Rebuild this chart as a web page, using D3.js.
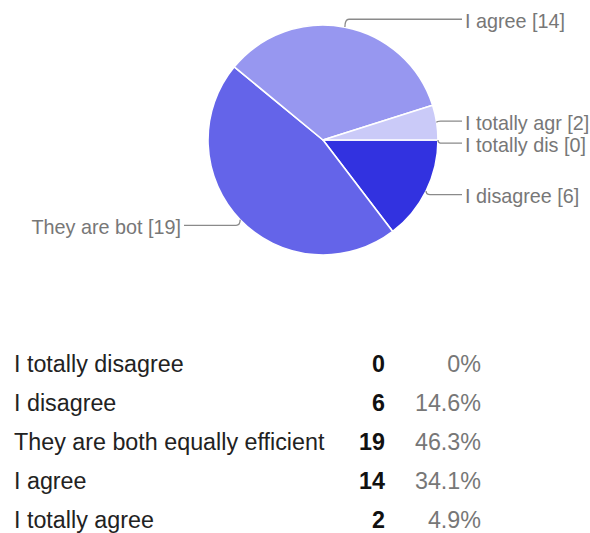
<!DOCTYPE html>
<html>
<head>
<meta charset="utf-8">
<script src="https://cdn.jsdelivr.net/npm/d3@7"></script>
<style>
  html, body { margin: 0; padding: 0; background: #fff; }
  svg { display: block; font-family: Arial, "Liberation Sans", sans-serif; }
</style>
</head>
<body>
<svg id="chart" width="590" height="533"></svg>
<script>
// Survey answers, in table order
const categories = [
  "I totally disagree",
  "I disagree",
  "They are both equally efficient",
  "I agree",
  "I totally agree"
];
const counts = [0, 6, 19, 14, 2];
// Shortened names used beside the pie
const shortNames = ["I totally dis", "I disagree", "They are bot", "I agree", "I totally agr"];
const sliceColors = ["#1f1fd8", "#3232e0", "#6464e9", "#9797f0", "#cacaf8"];

const total = d3.sum(counts);
const svg = d3.select("#chart");

// ---- Pie ----
const cx = 323, cy = 140, r = 115;
const pie = d3.pie()
  .sort(null)
  .value(d => d.value)
  .startAngle(Math.PI / 2)
  .endAngle(Math.PI / 2 + 2 * Math.PI);

const data = categories.map((c, i) => ({ name: c, short: shortNames[i], value: counts[i], color: sliceColors[i] }));
const arcs = pie(data);
const arc = d3.arc().innerRadius(0).outerRadius(r);

const g = svg.append("g").attr("transform", `translate(${cx},${cy})`);
g.selectAll("path.slice")
  .data(arcs.filter(a => a.data.value > 0))
  .join("path")
  .attr("class", "slice")
  .attr("d", arc)
  .attr("fill", a => a.data.color)
  .attr("stroke", "#fff")
  .attr("stroke-width", 1.6)
  .attr("stroke-linejoin", "round");

// ---- Leader lines and labels ----
const labels = arcs.map(a => {
  const mid = (a.startAngle + a.endAngle) / 2;
  const sx = Math.sin(mid), sy = -Math.cos(mid);
  return {
    a,
    side: sx >= 0 ? 1 : -1,
    ex: r * sx, ey: r * sy,
    ly: (r + 8) * sy
  };
});

// keep labels on each side apart
[1, -1].forEach(side => {
  const group = labels.filter(l => l.side === side).sort((p, q) => p.ly - q.ly);
  for (let i = 1; i < group.length; i++) {
    if (group[i].ly - group[i - 1].ly < 22) group[i].ly = group[i - 1].ly + 22;
  }
});

const lineEnd = 139, textGap = 3;
labels.forEach(l => {
  const xEnd = l.side * lineEnd;
  const kx = l.ex + l.side * 4;
  g.append("path")
    .attr("d", `M${l.ex},${l.ey} Q${l.ex},${l.ly} ${kx},${l.ly} L${xEnd},${l.ly}`)
    .attr("fill", "none")
    .attr("stroke", "#8a8a8a")
    .attr("stroke-width", 1.3);
  g.append("text")
    .attr("x", xEnd + l.side * textGap)
    .attr("y", l.ly + 8.5)
    .attr("text-anchor", l.side > 0 ? "start" : "end")
    .attr("font-size", 19.8)
    .attr("fill", "#777")
    .text(`${l.a.data.short} [${l.a.data.value}]`);
});

// ---- Summary table ----
const rowY = d3.scalePoint().domain(categories).range([372, 528]);
const fmtPct = v => v === 0 ? "0%" : (v / total * 100).toFixed(1) + "%";

const rows = svg.append("g").selectAll("g.row")
  .data(data)
  .join("g")
  .attr("class", "row")
  .attr("transform", d => `translate(0,${rowY(d.name)})`);

rows.append("text")
  .attr("x", 14)
  .attr("font-size", 23.3)
  .attr("fill", "#222")
  .text(d => d.name);

rows.append("text")
  .attr("x", 385)
  .attr("text-anchor", "end")
  .attr("font-size", 23.3)
  .attr("font-weight", "bold")
  .attr("fill", "#111")
  .text(d => d.value);

rows.append("text")
  .attr("x", 481)
  .attr("text-anchor", "end")
  .attr("font-size", 23.3)
  .attr("fill", "#777")
  .text(d => fmtPct(d.value));
</script>
</body>
</html>
